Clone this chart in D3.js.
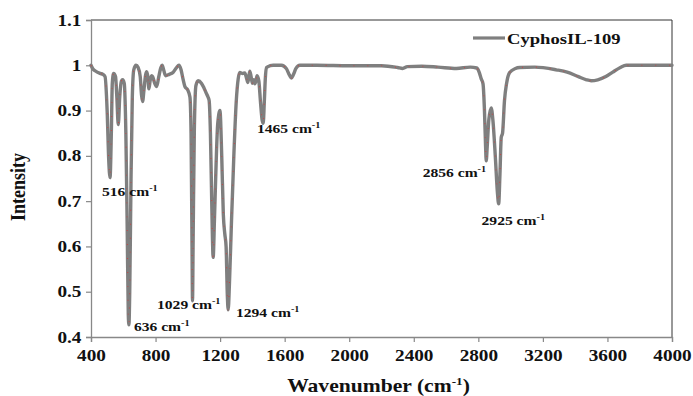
<!DOCTYPE html>
<html>
<head>
<meta charset="utf-8">
<script src="https://cdn.jsdelivr.net/npm/d3@7"></script>
<style>
  html, body { margin: 0; padding: 0; background: #fff; }
  svg { display: block; }
  text { font-family: "Liberation Serif", "Times New Roman", serif; font-weight: bold; fill: #111; }
</style>
</head>
<body>
<svg id="chart" width="693" height="396"></svg>
<script>
// FTIR spectrum of CyphosIL-109: wavenumber (cm-1) and normalised intensity
const wavenumber = [
  400, 410, 425, 456, 474, 487, 500, 510, 518, 526, 532, 540, 552, 560, 569, 578, 588, 596, 606, 616,
  624, 631, 635, 640, 648, 656, 665, 679, 692, 705, 713, 720, 728, 738, 745, 752, 759, 766, 775, 782,
  795, 807, 820, 833, 841, 850, 862, 885, 908, 930, 945, 958, 970, 982, 1000, 1013, 1020, 1026, 1029, 1033,
  1040, 1050, 1064, 1085, 1100, 1116, 1125, 1132, 1140, 1148, 1157, 1165, 1175, 1185, 1199, 1210, 1220, 1229, 1237, 1245,
  1250, 1258, 1270, 1285, 1300, 1312, 1322, 1340, 1353, 1365, 1372, 1378, 1384, 1392, 1400, 1408, 1415, 1422, 1429, 1440,
  1450, 1460, 1467, 1474, 1480, 1488, 1510, 1529, 1580, 1610, 1630, 1642, 1655, 1670, 1694, 1800, 2000, 2200, 2300, 2331,
  2360, 2450, 2550, 2664, 2750, 2790, 2805, 2818, 2829, 2838, 2845, 2849, 2855, 2865, 2880, 2890, 2905, 2918, 2926, 2934,
  2942, 2950, 2962, 2975, 2994, 3030, 3056, 3150, 3283, 3350, 3420, 3470, 3499, 3540, 3590, 3633, 3680, 3716, 3850, 4000
];
const intensity = [
  1.000, 0.993, 0.988, 0.982, 0.980, 0.975, 0.900, 0.790, 0.752, 0.850, 0.960, 0.982, 0.975, 0.930, 0.869, 0.930, 0.965, 0.968, 0.960, 0.850,
  0.650, 0.450, 0.427, 0.500, 0.750, 0.930, 0.990, 1.000, 0.995, 0.975, 0.935, 0.920, 0.945, 0.978, 0.986, 0.975, 0.948, 0.965, 0.977, 0.975,
  0.960, 0.953, 0.975, 0.995, 1.000, 0.990, 0.977, 0.980, 0.984, 0.995, 1.000, 0.990, 0.970, 0.953, 0.945, 0.930, 0.850, 0.600, 0.480, 0.620,
  0.850, 0.955, 0.966, 0.960, 0.950, 0.937, 0.930, 0.922, 0.850, 0.700, 0.576, 0.660, 0.780, 0.870, 0.900, 0.800, 0.670, 0.628, 0.600, 0.490,
  0.460, 0.520, 0.650, 0.800, 0.920, 0.970, 0.984, 0.982, 0.983, 0.970, 0.962, 0.975, 0.987, 0.975, 0.960, 0.968, 0.959, 0.965, 0.977, 0.965,
  0.920, 0.880, 0.872, 0.920, 0.970, 0.995, 0.999, 1.000, 1.000, 0.993, 0.978, 0.972, 0.980, 0.993, 1.000, 1.000, 0.999, 0.999, 0.995, 0.993,
  0.997, 0.998, 0.996, 0.993, 0.996, 0.994, 0.985, 0.970, 0.959, 0.900, 0.820, 0.789, 0.820, 0.880, 0.906, 0.880, 0.800, 0.720, 0.694, 0.760,
  0.841, 0.850, 0.922, 0.960, 0.984, 0.993, 0.995, 0.996, 0.990, 0.985, 0.975, 0.968, 0.966, 0.968, 0.975, 0.985, 0.995, 1.000, 1.000, 1.000
];
const seriesName = "CyphosIL-109";
const xTicks = [400, 800, 1200, 1600, 2000, 2400, 2800, 3200, 3600, 4000];
const yTicks = [0.4, 0.5, 0.6, 0.7, 0.8, 0.9, 1.0, 1.1];
// peak annotations: label value and where the label sits (data units)
const peakLabels = [516, 636, 1029, 1294, 1465, 2856, 2925];
const peakLabelAt = [[468, 0.712], [666, 0.414], [809, 0.461], [1298, 0.445], [1428, 0.851], [2455, 0.754], [2820, 0.648]];

const svg = d3.select("#chart");
const plotL = 91, plotR = 672, plotT = 20, plotB = 337;
const SX = 1.2; // horizontal text stretch

const x = d3.scaleLinear().domain([400, 4000]).range([plotL, plotR]);
const y = d3.scaleLinear().domain([0.4, 1.1]).range([plotB, plotT]);

// frame (top and right edges)
svg.append("path")
  .attr("d", `M${plotL},${plotT}H${plotR}V${plotB}`)
  .attr("fill", "none").attr("stroke", "#333").attr("stroke-width", 1);

// axes
const xAxis = svg.append("g").attr("transform", `translate(0,${plotB})`)
  .call(d3.axisBottom(x).tickValues(xTicks).tickSize(5).tickPadding(8).tickFormat(d3.format("d")));
const yAxis = svg.append("g").attr("transform", `translate(${plotL},0)`)
  .call(d3.axisLeft(y).tickValues(yTicks).tickSize(5).tickPadding(3)
    .tickFormat(d => d === 1 ? "1" : d3.format(".1f")(d)));

[xAxis, yAxis].forEach(g => {
  g.select(".domain").attr("stroke", "#888").attr("stroke-width", 1.3);
  g.selectAll(".tick line").attr("stroke", "#888").attr("stroke-width", 1.2);
  g.selectAll(".tick text").attr("fill", "#111")
    .style("font-family", '"Liberation Serif", serif').style("font-weight", "bold");
});
xAxis.selectAll(".tick text").style("font-size", "16px").attr("transform", `scale(${SX},1)`);
yAxis.selectAll(".tick text").style("font-size", "16px").attr("transform", `scale(${SX},1)`);

// spectrum
const pts = wavenumber.map((w, i) => [w, intensity[i]]);
const line = d3.line().x(d => x(d[0])).y(d => y(d[1])).curve(d3.curveMonotoneX);
svg.append("path").datum(pts)
  .attr("d", line).attr("fill", "none")
  .attr("stroke", "#7f7f7f").attr("stroke-width", 3.4)
  .attr("stroke-linejoin", "round").attr("stroke-linecap", "round");
svg.append("path").datum(pts)
  .attr("d", line).attr("fill", "none")
  .attr("stroke", "#d23c3c").attr("stroke-width", 1.1)
  .attr("stroke-dasharray", "0.9 13").attr("opacity", 0.8);

// peak labels
peakLabels.forEach((p, i) => {
  const [lx, ly] = peakLabelAt[i];
  const t = svg.append("text")
    .attr("transform", `translate(${x(lx)},${y(ly)}) scale(${SX},1)`)
    .style("font-size", "13px");
  t.append("tspan").text(`${p} cm`);
  t.append("tspan").attr("dy", -5).style("font-size", "8.5px").text("-1");
});

// legend
svg.append("line")
  .attr("x1", 473).attr("x2", 505).attr("y1", 38).attr("y2", 38)
  .attr("stroke", "#7f7f7f").attr("stroke-width", 3.2);
svg.append("text")
  .attr("transform", `translate(507,43.5) scale(${SX},1)`)
  .style("font-size", "15.5px").text(seriesName);

// axis titles
const xt = svg.append("text")
  .attr("transform", `translate(${(plotL + plotR) / 2 - 3},392) scale(${SX},1)`)
  .attr("text-anchor", "middle").style("font-size", "18px");
xt.append("tspan").text("Wavenumber (cm");
xt.append("tspan").attr("dy", -7).style("font-size", "11px").text("-1");
xt.append("tspan").attr("dy", 7).text(")");

svg.append("text")
  .attr("transform", `translate(25,187) scale(${SX},1) rotate(-90)`)
  .attr("text-anchor", "middle").style("font-size", "18px").text("Intensity");
</script>
</body>
</html>
